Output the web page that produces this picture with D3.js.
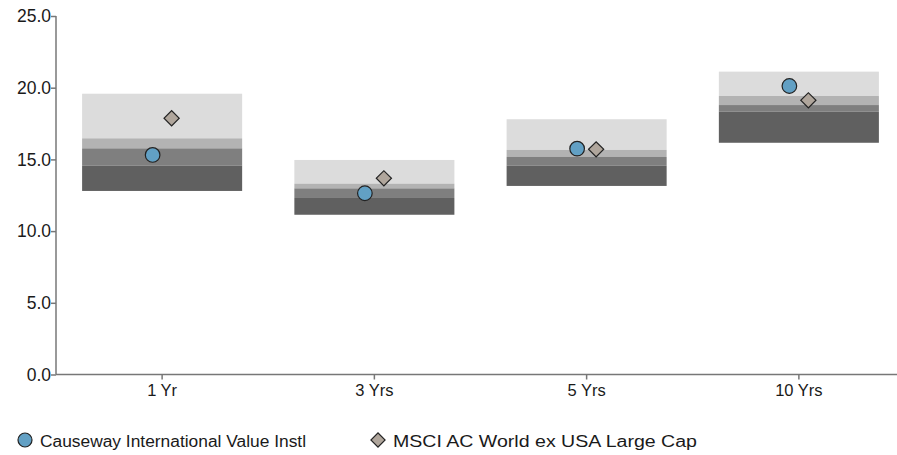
<!DOCTYPE html>
<html><head><meta charset="utf-8">
<script src="https://cdn.jsdelivr.net/npm/d3@7"></script>
<style>body{margin:0;background:#fff}svg{display:block;font-family:"Liberation Sans",Arial,sans-serif}</style>
</head><body><svg id="c" width="897" height="455"></svg>
<script>
const categories = ["1 Yr", "3 Yrs", "5 Yrs", "10 Yrs"];
// band boundaries per category, from bottom to top
const bandBottom = [12.80, 11.14, 13.15, 16.16];
const bandQ3 = [14.56, 12.31, 14.56, 18.33];
const bandQ2 = [15.77, 12.98, 15.17, 18.79];
const bandQ1 = [16.47, 13.31, 15.66, 19.42];
const bandTop = [19.58, 14.96, 17.80, 21.12];
const fundValues = [15.31, 12.64, 15.75, 20.12];
const indexValues = [17.87, 13.68, 15.70, 19.12];
const yTicks = [0, 5, 10, 15, 20, 25];
const seriesNames = ["Causeway International Value Instl", "MSCI AC World ex USA Large Cap"];

const svg = d3.select("#c");
const x = d3.scaleBand().domain(categories).range([56, 905]).paddingInner(0.246).paddingOuter(0.123);
const y = d3.scaleLinear().domain([0, 25]).range([374.5, 16]);
const cx = c => x(c) + x.bandwidth() / 2;

const layers = [
  {lo: bandQ1, hi: bandTop, color: "#dcdcdc"},
  {lo: bandQ2, hi: bandQ1, color: "#b3b3b3"},
  {lo: bandQ3, hi: bandQ2, color: "#7f7f7f"},
  {lo: bandBottom, hi: bandQ3, color: "#606060"}
];
layers.forEach(L => {
  svg.append("g").selectAll("rect").data(categories).join("rect")
    .attr("x", d => x(d)).attr("width", x.bandwidth())
    .attr("y", (d, i) => y(L.hi[i])).attr("height", (d, i) => y(L.lo[i]) - y(L.hi[i]))
    .attr("fill", L.color);
});

const yAxis = svg.append("g").attr("transform", "translate(56,0)")
  .call(d3.axisLeft(y).tickValues(yTicks).tickFormat(d3.format(".1f")).tickSize(5).tickSizeOuter(0));
const xAxis = svg.append("g").attr("transform", "translate(0,374.5)")
  .call(d3.axisBottom(x).tickSize(5).tickSizeOuter(0));
[yAxis, xAxis].forEach(a => {
  a.attr("font-size", null).attr("font-family", null);
  a.selectAll("path,line").attr("stroke", "#777").attr("stroke-width", 1.5);
  a.selectAll("text").attr("fill", "#1a1a1a");
});
yAxis.select(".domain").attr("d", "M0,16V374.5");
xAxis.select(".domain").attr("d", "M56,0H897");
yAxis.selectAll("text").attr("x", -5).style("font-size", "17.5px");
xAxis.selectAll("text").attr("y", 10).style("font-size", "16.5px");

const off = 9.5;
svg.append("g").selectAll("path").data(categories).join("path")
  .attr("d", d3.symbol(d3.symbolSquare, 115))
  .attr("transform", (d, i) => `translate(${cx(d) + off},${y(indexValues[i])}) rotate(45)`)
  .attr("fill", "#b0a69c").attr("stroke", "#222").attr("stroke-width", 1.2);
svg.append("g").selectAll("circle").data(categories).join("circle")
  .attr("cx", d => cx(d) - off).attr("cy", (d, i) => y(fundValues[i])).attr("r", 7.3)
  .attr("fill", "#62a0c4").attr("stroke", "#222").attr("stroke-width", 1.2);

const lg = svg.append("g");
lg.append("circle").attr("cx", 25).attr("cy", 440).attr("r", 7).attr("fill", "#62a0c4").attr("stroke", "#222").attr("stroke-width", 1.2);
lg.append("text").attr("x", 40).attr("y", 446.5).text(seriesNames[0]).attr("fill", "#1a1a1a").style("font-size", "17.3px")
  .attr("textLength", 266).attr("lengthAdjust", "spacingAndGlyphs");
lg.append("path").attr("d", d3.symbol(d3.symbolSquare, 100)).attr("transform", "translate(378,440) rotate(45)")
  .attr("fill", "#b0a69c").attr("stroke", "#222").attr("stroke-width", 1.2);
lg.append("text").attr("x", 393).attr("y", 446.5).text(seriesNames[1]).attr("fill", "#1a1a1a").style("font-size", "17.3px")
  .attr("textLength", 304).attr("lengthAdjust", "spacingAndGlyphs");
</script></body></html>
